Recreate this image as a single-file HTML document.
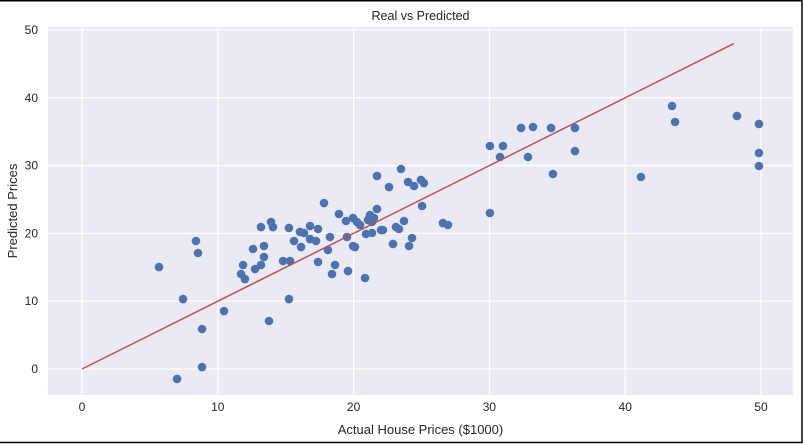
<!DOCTYPE html>
<html><head><meta charset="utf-8"><style>
html,body{margin:0;padding:0;background:#fff;}
svg{display:block;font-family:"Liberation Sans",sans-serif;}
</style></head><body>
<svg id="c" width="803" height="444"></svg>
<script>
const actual=[5.67,7.44,7.00,8.39,8.54,8.84,8.84,10.46,13.77,15.24,11.71,11.86,12.00,12.59,13.18,13.92,14.06,13.40,13.40,12.74,13.18,14.80,15.32,15.24,16.05,16.35,16.79,17.38,15.61,16.13,16.79,17.23,17.38,17.82,18.92,19.44,19.96,20.25,20.47,18.26,19.51,18.11,18.63,18.41,19.59,19.96,20.10,20.84,21.72,22.61,23.49,24.01,24.45,24.96,25.18,25.04,23.71,23.12,23.34,24.30,24.08,22.90,22.02,22.16,21.35,20.91,21.06,21.21,21.72,21.50,21.35,26.58,26.95,30.04,30.04,30.78,31.00,32.33,33.21,34.54,32.84,34.68,36.30,36.30,41.16,43.45,43.67,48.23,49.85,49.85,49.85];
const predicted=[15.04,10.32,-1.47,18.88,17.11,5.90,0.29,8.55,7.08,10.32,14.01,15.34,13.27,17.70,20.94,21.68,20.94,18.14,16.52,14.75,15.34,15.93,15.93,20.80,20.21,20.06,21.09,20.65,18.88,17.99,19.17,18.88,15.78,24.48,22.86,21.83,22.27,21.68,21.24,19.47,19.47,17.55,15.34,14.01,14.45,18.14,17.99,13.42,28.47,26.84,29.50,27.58,26.99,27.88,27.43,24.04,21.83,20.94,20.65,19.32,18.14,18.44,20.50,20.50,20.06,19.91,21.98,22.71,23.60,22.27,21.68,21.53,21.24,32.89,23.01,31.27,32.89,35.55,35.69,35.55,31.27,28.76,35.55,32.15,28.32,38.79,36.43,37.32,36.14,31.86,29.94];
const xTicks=[0,10,20,30,40,50];
const yTicks=[0,10,20,30,40,50];
const lineRange=[0,48];
const NS="http://www.w3.org/2000/svg";
const svg=document.getElementById('c');
const L=48,R=793,T=27,B=395;
const X=v=>82+(v)*(761-82)/50;
const Y=v=>369-(v)*(369-30)/50;
function mk(t,a){const e=document.createElementNS(NS,t);for(const k in a)e.setAttribute(k,a[k]);svg.appendChild(e);return e;}
const fr=mk('path',{d:'M0 0.75 H802 V442.5 H0',fill:'none',stroke:'#000','stroke-width':1.5});


const bg=mk('rect',{x:L,y:T,width:R-L,height:B-T,fill:'#eaeaf2'});


xTicks.forEach(v=>{
 const g=mk('line',{x1:X(v),x2:X(v),y1:T,y2:B,stroke:'#fff','stroke-width':1.2});
 
 
 const t=mk('text',{x:X(v),y:B+16,'text-anchor':'middle','font-size':12,fill:'#262626'});
 t.textContent=v;
 
 
});
yTicks.forEach(v=>{
 const g=mk('line',{x1:L,x2:R,y1:Y(v),y2:Y(v),stroke:'#fff','stroke-width':1.2});
 
 
 const t=mk('text',{x:L-10,y:Y(v)+4,'text-anchor':'end','font-size':12,fill:'#262626'});
 t.textContent=v;
 
 
});
actual.forEach((a,i)=>{
 const c=mk('circle',{cx:X(a),cy:Y(predicted[i]),r:4.3,fill:'#4c72b0'});
 
 
});
const ln=mk('line',{x1:X(lineRange[0]),y1:Y(lineRange[0]),x2:X(lineRange[1]),y2:Y(lineRange[1]),stroke:'#c44e52','stroke-width':1.5});


const ti=mk('text',{x:(L+R)/2,y:20,'text-anchor':'middle','font-size':12.5,fill:'#262626'});
ti.textContent='Real vs Predicted';


const xl=mk('text',{x:(L+R)/2,y:434,'text-anchor':'middle','font-size':13,fill:'#262626'});
xl.textContent='Actual House Prices ($1000)';


const yl=mk('text',{x:0,y:0,'text-anchor':'middle','font-size':13,fill:'#262626',transform:'translate(17,'+((T+B)/2)+') rotate(-90)'});
yl.textContent='Predicted Prices';


</script>
</body></html>
